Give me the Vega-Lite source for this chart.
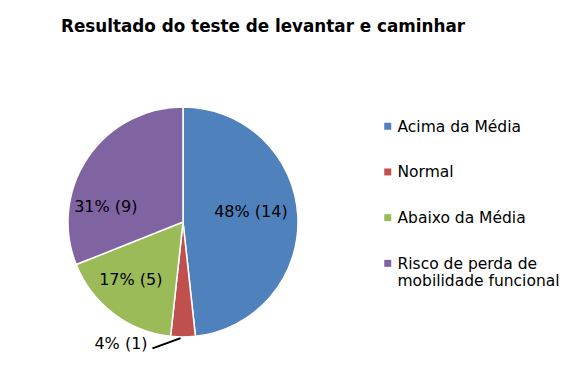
{
  "$schema": "https://vega.github.io/schema/vega-lite/v6.json",
  "width": 366,
  "height": 230,
  "autosize": {"type": "none"},
  "padding": {"left": 0, "top": 107, "right": 210, "bottom": 40},
  "background": "white",
  "title": {
    "text": "Resultado do teste de levantar e caminhar",
    "font": "DejaVu Sans",
    "fontSize": 16.8,
    "fontWeight": "bold",
    "color": "black",
    "anchor": "start",
    "frame": "group",
    "dx": 61,
    "offset": 55,
    "baseline": "alphabetic"
  },
  "config": {"view": {"stroke": null}},
  "data": {
    "values": [
      {"categoria": "Acima da Média", "ordem": 1, "n": 14, "rotulo": "48% (14)"},
      {"categoria": "Normal", "ordem": 2, "n": 1, "rotulo": "4% (1)"},
      {"categoria": "Abaixo da Média", "ordem": 3, "n": 5, "rotulo": "17% (5)"},
      {"categoria": "Risco de perda de mobilidade funcional", "ordem": 4, "n": 9, "rotulo": "31% (9)"}
    ]
  },
  "transform": [
    {"stack": "n", "groupby": [], "sort": [{"field": "ordem", "order": "ascending"}], "as": ["v0", "v1"]},
    {"calculate": "(datum.v0 + datum.v1) / 2", "as": "meio"}
  ],
  "layer": [
    {
      "mark": {"type": "arc", "stroke": "white", "strokeWidth": 1.5},
      "encoding": {
        "theta": {"field": "v0", "type": "quantitative", "stack": null, "scale": {"domain": [0, 29]}},
        "theta2": {"field": "v1"},
        "color": {
          "field": "categoria",
          "type": "nominal",
          "sort": ["Acima da Média", "Normal", "Abaixo da Média", "Risco de perda de mobilidade funcional"],
          "scale": {
            "domain": ["Acima da Média", "Normal", "Abaixo da Média", "Risco de perda de mobilidade funcional"],
            "range": ["#4F81BD", "#C0504D", "#9BBB59", "#8064A2"]
          },
          "legend": {
            "title": null,
            "orient": "none",
            "legendX": 380,
            "legendY": 17,
            "symbolType": "M-1,-2.57H1V-0.57H-1Z",
            "symbolSize": 49,
            "symbolStrokeWidth": 0,
            "labelFont": "DejaVu Sans",
            "labelFontSize": 15.5,
            "labelColor": "black",
            "labelOffset": 2,
            "labelLimit": 300,
            "rowPadding": 28.7,
            "labelBaseline": "alphabetic",
            "labelExpr": "datum.label == 'Risco de perda de mobilidade funcional' ? ['Risco de perda de', 'mobilidade funcional'] : datum.label"
          }
        }
      }
    },
    {
      "transform": [{"filter": "datum.ordem == 1"}],
      "mark": {"type": "text", "radius": 68, "dy": -6, "font": "DejaVu Sans", "fontSize": 16, "color": "black"},
      "encoding": {
        "theta": {"field": "meio", "type": "quantitative", "stack": null, "scale": {"domain": [0, 29]}},
        "text": {"field": "rotulo"}
      }
    },
    {
      "transform": [{"filter": "datum.ordem == 2"}],
      "mark": {"type": "text", "radius": 122, "dx": -62, "font": "DejaVu Sans", "fontSize": 16, "color": "black"},
      "encoding": {
        "theta": {"field": "meio", "type": "quantitative", "stack": null, "scale": {"domain": [0, 29]}},
        "text": {"field": "rotulo"}
      }
    },
    {
      "transform": [{"filter": "datum.ordem == 2"}],
      "mark": {"type": "text", "radius": 120, "dx": -16, "dy": -6, "angle": -20, "font": "Liberation Sans", "fontSize": 30, "color": "black"},
      "encoding": {
        "theta": {"field": "meio", "type": "quantitative", "stack": null, "scale": {"domain": [0, 29]}},
        "text": {"value": "—"}
      }
    },
    {
      "transform": [{"filter": "datum.ordem == 3"}],
      "mark": {"type": "text", "radius": 78, "dx": -5, "dy": -4, "font": "DejaVu Sans", "fontSize": 16, "color": "black"},
      "encoding": {
        "theta": {"field": "meio", "type": "quantitative", "stack": null, "scale": {"domain": [0, 29]}},
        "text": {"field": "rotulo"}
      }
    },
    {
      "transform": [{"filter": "datum.ordem == 4"}],
      "mark": {"type": "text", "radius": 80, "dx": -11, "dy": 30, "font": "DejaVu Sans", "fontSize": 16, "color": "black"},
      "encoding": {
        "theta": {"field": "meio", "type": "quantitative", "stack": null, "scale": {"domain": [0, 29]}},
        "text": {"field": "rotulo"}
      }
    }
  ]
}
